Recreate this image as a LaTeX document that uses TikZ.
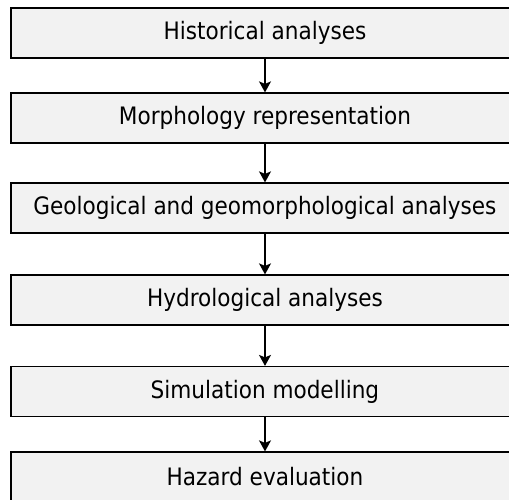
\documentclass[tikz,border=0pt]{standalone}
\usepackage{fontspec}
\setmainfont{DejaVu Sans Condensed}
\usetikzlibrary{arrows.meta}
\tikzset{
    stagebox/.style={draw=black, line width=1.2pt, fill=gray!10, minimum width=508pt, minimum height=50pt, inner sep=0pt, font=\fontsize{24}{28}\selectfont},
    flowarrow/.style={line width=1.5pt, -{Stealth[length=11pt, width=12pt, inset=2.5pt]}}
}
\begin{document}
\begin{tikzpicture}[x=1pt, y=-1pt]
        \useasboundingbox (0,0) rectangle (509,500);

        \node[stagebox] (hist) at (265,33) {Historical analyses};
        \node[stagebox] (morph) at (265,118) {Morphology representation};
        \node[stagebox] (geo) at (265,208) {Geological and geomorphological analyses};
        \node[stagebox] (hydro) at (265,300) {Hydrological analyses};
        \node[stagebox] (sim) at (265,391.5) {Simulation modelling};
        \node[stagebox] (hazard) at (265,477) {Hazard evaluation};

        \draw[flowarrow] (hist) -- (morph);
        \draw[flowarrow] (morph) -- (geo);
        \draw[flowarrow] (geo) -- (hydro);
        \draw[flowarrow] (hydro) -- (sim);
        \draw[flowarrow] (sim) -- (hazard);
    \end{tikzpicture}
\end{document}
